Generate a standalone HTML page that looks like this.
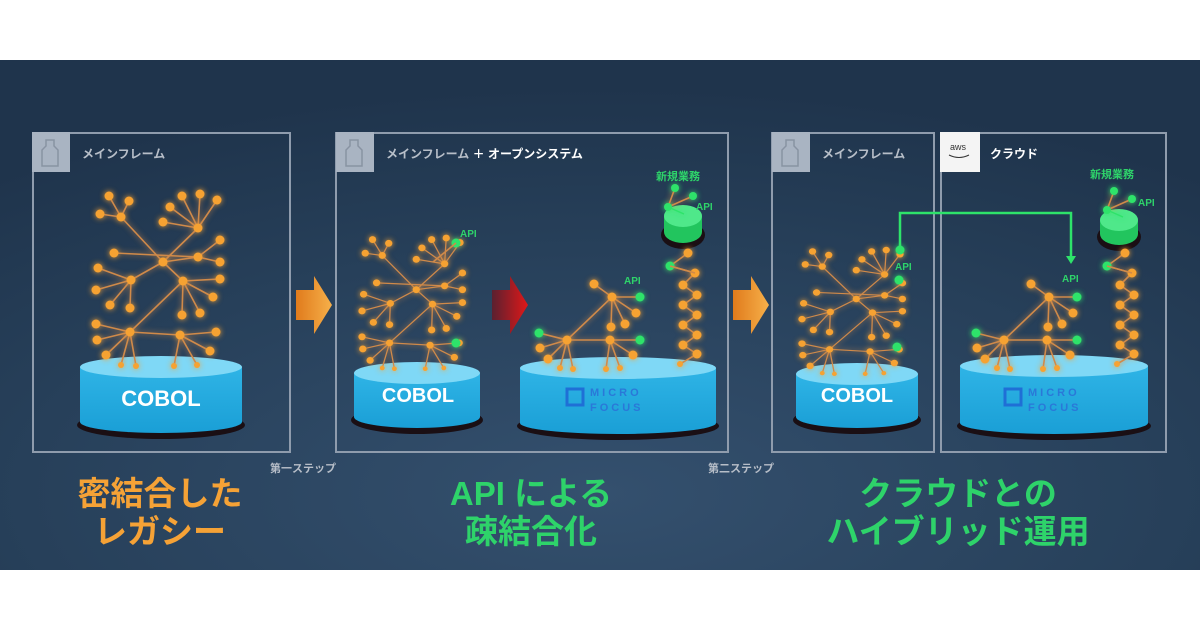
<!DOCTYPE html>
<html><head><meta charset="utf-8">
<style>
html,body{margin:0;padding:0;background:#fff;}
#wrap{position:relative;width:1200px;height:630px;overflow:hidden;background:#fff;}
svg{position:absolute;left:0;top:0;}
</style></head><body><div id="wrap">
<svg id="s" width="1200" height="630" viewBox="0 0 1200 630" xmlns="http://www.w3.org/2000/svg" font-family="Liberation Sans, Noto Sans CJK JP, sans-serif">
<defs>
<radialGradient id="bg" cx="0.5" cy="0.85" r="0.8">
<stop offset="0" stop-color="#34506e"/><stop offset="0.6" stop-color="#27405a"/><stop offset="1" stop-color="#1f344c"/>
</radialGradient>
<linearGradient id="cylb" x1="0" y1="0" x2="0" y2="1"><stop offset="0" stop-color="#2fb4e6"/><stop offset="1" stop-color="#1a9fd6"/></linearGradient>
<linearGradient id="org" x1="0" y1="0" x2="1" y2="0"><stop offset="0" stop-color="#e07b1c"/><stop offset="1" stop-color="#f6b04a"/></linearGradient>
<linearGradient id="red" x1="0" y1="0" x2="1" y2="0"><stop offset="0" stop-color="#5a2030"/><stop offset="1" stop-color="#e01818"/></linearGradient>
<filter id="glow" x="-20%" y="-20%" width="140%" height="140%"><feGaussianBlur stdDeviation="3" result="b"/><feMerge><feMergeNode in="b"/><feMergeNode in="SourceGraphic"/></feMerge></filter>
</defs>
<rect x="0" y="60" width="1200" height="510" fill="url(#bg)"/>
<g fill="none" stroke="#8f9cad" stroke-width="2">
<rect x="33" y="133" width="257" height="319"/>
<rect x="336" y="133" width="392" height="319"/>
<rect x="772" y="133" width="162" height="319"/>
<rect x="941" y="133" width="225" height="319"/>
</g>
<rect x="32" y="132" width="38" height="40" fill="#a9b4c2"/>
<rect x="336" y="132" width="38" height="40" fill="#a9b4c2"/>
<rect x="772" y="132" width="38" height="40" fill="#a9b4c2"/>
<rect x="940" y="132" width="40" height="40" fill="#f4f4f4"/>
<g fill="none" stroke="#8893a2" stroke-width="1.5">
<path d="M46 140h8v6l4 4v16h-16v-16l4-4z"/>
<path d="M350 140h8v6l4 4v16h-16v-16l4-4z"/>
<path d="M786 140h8v6l4 4v16h-16v-16l4-4z"/>
</g>
<text x="950" y="150" font-size="9" fill="#333">aws</text>
<path d="M949 155q10 5 20 0" stroke="#333" fill="none" stroke-width="1"/>
<g font-size="12" font-weight="bold" fill="#b7bec8">
<text x="82" y="158">メインフレーム</text>
<text x="386" y="158">メインフレーム <tspan fill="#fff">＋ オープンシステム</tspan></text>
<text x="822" y="158">メインフレーム</text>
<text x="990" y="158" fill="#fff">クラウド</text>
</g>
<path d="M296 290h18v-14l18 29-18 29v-14h-18z" fill="url(#org)"/>
<path d="M492 290h18v-14l18 29-18 29v-14h-18z" fill="url(#red)"/>
<path d="M733 290h18v-14l18 29-18 29v-14h-18z" fill="url(#org)"/>
<g id="cyls"></g>
<g id="trees" filter="url(#glow)"></g>
<path d="M900 250V213H1071V258" stroke="#2ee36a" stroke-width="2.5" fill="none"/>
<path d="M1066 256l5 8 5-8z" fill="#2ee36a"/>
<g font-size="10" font-weight="bold" fill="#2ed36a">
<text x="460" y="237">API</text><text x="624" y="284">API</text><text x="696" y="210">API</text>
<text x="895" y="270">API</text><text x="1062" y="282">API</text><text x="1138" y="206">API</text>
<text x="656" y="180" font-size="11">新規業務</text><text x="1090" y="178" font-size="11">新規業務</text>
</g>
<g font-weight="bold" fill="#fff" text-anchor="middle">
<text x="161" y="406" font-size="22">COBOL</text>
<text x="418" y="402" font-size="20">COBOL</text>
<text x="857" y="402" font-size="20">COBOL</text>
</g>
<g fill="none" stroke="#1f6fd6" stroke-width="3"><rect x="567" y="389" width="16" height="16"/><rect x="1005" y="389" width="16" height="16"/></g>
<g font-size="11" font-weight="bold" fill="#2a78d8" letter-spacing="3">
<text x="590" y="396">MICRO</text><text x="590" y="411">FOCUS</text>
<text x="1028" y="396">MICRO</text><text x="1028" y="411">FOCUS</text>
</g>
<g font-size="11" font-weight="bold" fill="#b7bec8">
<text x="270" y="472">第一ステップ</text><text x="708" y="472">第二ステップ</text>
</g>
<g font-size="33" font-weight="bold" text-anchor="middle">
<text x="160" y="505" fill="#f5a236">密結合した</text>
<text x="160" y="543" fill="#f5a236">レガシー</text>
<text x="531" y="505" fill="#2ed36a">API による</text>
<text x="531" y="543" fill="#2ed36a">疎結合化</text>
<text x="958" y="505" fill="#2ed36a">クラウドとの</text>
<text x="958" y="543" fill="#2ed36a">ハイブリッド運用</text>
</g>
</svg>
<script>
var NS="http://www.w3.org/2000/svg";
function el(p,t,a){var e=document.createElementNS(NS,t);for(var k in a)e.setAttribute(k,a[k]);p.appendChild(e);return e;}
var C=document.getElementById('cyls'),T=document.getElementById('trees');
function cyl(x1,x2,yt,yb,fill){var cx=(x1+x2)/2,rx=(x2-x1)/2,ry=11;
 el(C,'ellipse',{cx:cx,cy:yb+3,rx:rx+3,ry:ry+3,fill:'#1a0f14'});
 el(C,'path',{d:'M'+x1+' '+yt+'V'+yb+'A'+rx+' '+ry+' 0 0 0 '+x2+' '+yb+'V'+yt+'z',fill:fill||'url(#cylb)'});
 el(C,'ellipse',{cx:cx,cy:yt,rx:rx,ry:ry,fill:fill?'#4fe88a':'#7fd8f6'});}
cyl(80,242,367,422);cyl(354,480,373,417);cyl(520,716,368,423);cyl(796,918,374,417);cyl(960,1148,366,423);
cyl(664,702,216,232,'#22c55e');cyl(1100,1138,220,234,'#22c55e');
var OR='#f6a232',LN='#d08a4a',GR='#2ee36a';
function tree(g,hubs,edges){hubs.forEach(function(h){h[2].forEach(function(l){el(g,'line',{x1:h[0],y1:h[1],x2:l[0],y2:l[1],stroke:LN,'stroke-width':1.6});});});
 edges.forEach(function(e){el(g,'line',{x1:e[0],y1:e[1],x2:e[2],y2:e[3],stroke:LN,'stroke-width':1.6});});
 hubs.forEach(function(h){h[2].forEach(function(l){el(g,'circle',{cx:l[0],cy:l[1],r:l[2]||4.5,fill:l[3]||OR});});el(g,'circle',{cx:h[0],cy:h[1],r:4.5,fill:OR});});}
var H1=[[121,217,[[109,196],[129,201],[100,214]]],[198,228,[[182,196],[200,194],[217,200],[170,207],[163,222]]],
[198,257,[[220,240],[220,262],[114,253]]],[131,280,[[98,268],[96,290],[110,305],[130,308]]],
[183,281,[[220,279],[213,297],[182,315],[200,313]]],[130,332,[[96,324],[97,340],[106,355],[121,365,3],[136,366,3]]],
[180,335,[[216,332],[210,351],[174,366,3],[197,365,3]]],[163,262,[]]];
var E1=[[121,217,163,262],[163,262,198,228],[163,262,198,257],[163,262,131,280],[163,262,183,281],[183,281,130,332],[130,332,180,335]];
tree(T,H1,E1);
function copy(tx,ty,sx,sy){var g=el(T,'g',{transform:'translate('+tx+','+ty+') scale('+sx+','+sy+') translate(-96,-194)'});tree(g,H1,E1);}
copy(362,238,0.81,0.76);copy(802,250,0.81,0.72);
function chain(g,pts){for(var i=0;i<pts.length-1;i++)el(g,'line',{x1:pts[i][0],y1:pts[i][1],x2:pts[i+1][0],y2:pts[i+1][1],stroke:LN,'stroke-width':1.6});
 pts.forEach(function(p){el(g,'circle',{cx:p[0],cy:p[1],r:p[2]||4.5,fill:p[3]||OR});});}
function mf(dx){tree(T,[[612+dx,297,[[594+dx,284],[640+dx,297,4.5,GR],[636+dx,313],[625+dx,324],[611+dx,327]]],
[567+dx,340,[[539+dx,333,4.5,GR],[540+dx,348],[548+dx,359],[560+dx,368,3],[573+dx,369,3]]],
[610+dx,340,[[640+dx,340,4.5,GR],[606+dx,369,3],[620+dx,368,3],[633+dx,355]]]],
[[612+dx,297,567+dx,340],[567+dx,340,610+dx,340]]);
 chain(T,[[688+dx,253],[670+dx,266,4.5,GR],[695+dx,273],[683+dx,285],[697+dx,295],[683+dx,305],[697+dx,315],[683+dx,325],[697+dx,335],[683+dx,345],[697+dx,354],[680+dx,364,3]]);
 el(T,'line',{x1:670+dx,y1:266,x2:695+dx,y2:273,stroke:LN,'stroke-width':1.6});}
mf(0);mf(437);
function mod(dx,dy){chain(T,[[675+dx,188+dy,4,GR],[668+dx,207+dy,4,GR],[693+dx,196+dy,4,GR]]);el(T,'line',{x1:668+dx,y1:207+dy,x2:684+dx,y2:214+dy,stroke:GR,'stroke-width':1.5});}
mod(0,0);mod(439,3);
[[456,243],[456,343],[900,250],[899,280],[897,347]].forEach(function(p){el(T,'circle',{cx:p[0],cy:p[1],r:4.5,fill:GR});});
el(T,'line',{x1:433,y1:262,x2:456,y2:243,stroke:LN,'stroke-width':1.6});
</script>
</div></body></html>
